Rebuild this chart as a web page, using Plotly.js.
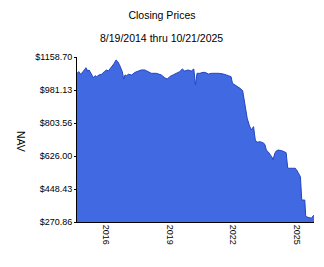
<!DOCTYPE html>
<html><head><meta charset="utf-8">
<script src="https://cdn.plot.ly/plotly-3.0.1.min.js"></script>
<style>html,body{margin:0;padding:0;background:#fff}#chart{width:324px;height:267px}</style>
</head><body><div id="chart"></div>
<script>
const dates = ["2014-08-19","2014-09-22","2014-10-10","2014-11-08","2014-12-23","2015-01-21","2015-02-19","2015-03-14","2015-04-17","2015-05-27","2015-06-25","2015-07-24","2015-09-02","2015-10-18","2015-12-02","2016-01-12","2016-02-09","2016-03-09","2016-04-18","2016-05-22","2016-06-21","2016-07-20","2016-08-16","2016-09-15","2016-10-07","2016-10-31","2016-11-23","2016-12-22","2017-01-18","2017-03-18","2017-05-14","2017-07-10","2017-08-30","2017-10-28","2017-12-24","2018-02-19","2018-05-16","2018-08-10","2018-10-07","2018-11-21","2019-01-01","2019-02-27","2019-04-25","2019-06-22","2019-08-06","2019-09-17","2019-11-12","2020-01-08","2020-02-20","2020-03-20","2020-04-16","2020-06-02","2020-07-28","2020-09-01","2020-10-29","2020-12-25","2021-04-20","2021-07-15","2021-10-09","2021-11-23","2021-12-17","2022-03-01","2022-04-27","2022-06-10","2022-07-01","2022-08-05","2022-08-28","2022-10-01","2022-11-05","2022-12-15","2023-01-14","2023-02-12","2023-04-10","2023-06-10","2023-07-01","2023-07-23","2023-08-23","2023-10-02","2023-10-25","2023-11-16","2023-12-15","2024-01-10","2024-02-10","2024-04-10","2024-05-15","2024-06-28","2024-07-26","2024-11-30","2024-12-20","2025-01-20","2025-03-01","2025-03-24","2025-05-15","2025-06-01","2025-08-10","2025-09-05","2025-10-05","2025-10-21"];
const nav = [1071,1080,1066,1071,1089,1101,1083,1089,1071,1047,1058,1053,1062,1066,1080,1089,1083,1094,1107,1125,1143,1134,1119,1101,1080,1040,1062,1058,1066,1062,1076,1083,1089,1089,1080,1071,1071,1062,1047,1040,1053,1062,1071,1080,1094,1083,1089,1083,1094,1008,1071,1071,1076,1076,1067,1071,1071,1067,1058,1053,1017,1004,990,978,936,882,829,793,766,784,712,700,703,695,685,658,649,631,622,605,640,653,658,655,649,644,560,560,554,533,515,389,389,300,296,291,303,308];
const yTickVals = [270.86,448.43,626.00,803.56,981.13,1158.70];
const yTickText = ["$270.86","$448.43","$626.00","$803.56","$981.13","$1158.70"];
const xTickVals = ["2016-01-01","2019-01-01","2022-01-01","2025-01-01"];
const xTickText = ["2016","2019","2022","2025"];
const titleText = "Closing Prices";
const subtitleText = "8/19/2014 thru 10/21/2025";
const yLabel = "NAV";

const font = "Liberation Sans, Arial, sans-serif";
Plotly.newPlot("chart", [{
  x: dates, y: nav, type: "scatter", mode: "lines",
  fill: "tozeroy", fillcolor: "#4169E1",
  line: {color: "#2345c0", width: 1}
}], {
  width: 324, height: 267,
  margin: {l: 77, r: 10, t: 57, b: 45},
  paper_bgcolor: "#fff", plot_bgcolor: "#fff",
  showlegend: false,
  font: {family: font, size: 9, color: "#000"},
  title: {text: titleText, font: {family: font, size: 10.5, color: "#000"}, x: 0.5, xref: "container", xanchor: "center", y: 1 - 15/267, yanchor: "middle"},
  annotations: [
    {text: subtitleText, xref: "paper", yref: "paper", x: (161-77)/237, y: 1 + (57-38)/165, xanchor: "center", yanchor: "middle", showarrow: false, font: {family: font, size: 10.5, color: "#000"}},
    {text: yLabel, xref: "paper", yref: "paper", x: (21-77)/237, y: (222-141)/165, xanchor: "center", yanchor: "middle", textangle: 90, showarrow: false, font: {family: font, size: 10.5, color: "#000"}}
  ],
  xaxis: {
    type: "date", range: ["2014-08-19", "2025-10-21"],
    tickvals: xTickVals, ticktext: xTickText, tickangle: 90,
    showgrid: false, zeroline: false, showline: true, linecolor: "#000", linewidth: 1,
    ticks: "", tickfont: {family: font, size: 9, color: "#000"}, fixedrange: true
  },
  yaxis: {
    range: [270.86, 1158.70], tickvals: yTickVals, ticktext: yTickText,
    showgrid: false, zeroline: false, showline: true, linecolor: "#000", linewidth: 1,
    ticks: "outside", ticklen: 2, tickcolor: "#000", tickfont: {family: font, size: 9, color: "#000"}
  }
}, {staticPlot: true, displayModeBar: false});
</script></body></html>
